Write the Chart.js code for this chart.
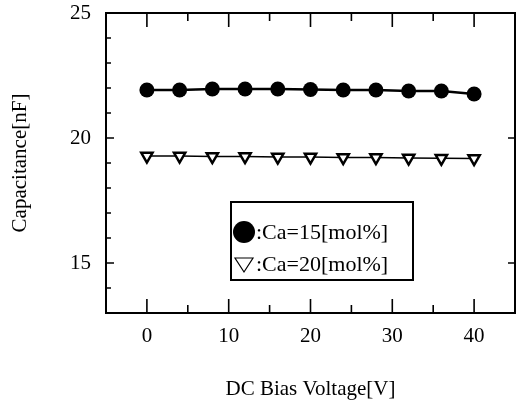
<!DOCTYPE html>
<html>
<head>
<meta charset="utf-8">
<script src="https://cdn.jsdelivr.net/npm/chart.js@4"></script>
<style>
  body { margin: 0; background: #fff; }
</style>
</head>
<body>
<canvas id="canvas" width="524" height="406"></canvas>
<script>
// DC bias dependence of capacitance
var voltage = [0, 4, 8, 12, 16, 20, 24, 28, 32, 36, 40];
var ca15 = [21.92, 21.92, 21.96, 21.96, 21.96, 21.94, 21.92, 21.92, 21.88, 21.88, 21.76];
var ca20 = [19.28, 19.28, 19.26, 19.26, 19.24, 19.24, 19.22, 19.22, 19.20, 19.19, 19.18];
var seriesNames = ['Ca=15[mol%]', 'Ca=20[mol%]'];

var xTicks = [0, 10, 20, 30, 40];
var xMinorTicks = [5, 15, 25, 35];
var yTicks = [15, 20, 25];
var yMinorTicks = [14, 16, 17, 18, 19, 21, 22, 23, 24];

var serif = "'Liberation Serif', 'DejaVu Serif', serif";

function toPoints( xs , ys ){
  var pts = [];
  for( var i = 0; i < xs.length; i++ ){
    pts.push({ x: xs[i], y: ys[i] });
  }
  return pts;
}

// box round the plot, inward ticks and the legend box
var framePlugin = {
  id: 'frame',
  afterDraw: function( chart ){
    var ctx = chart.ctx;
    var a = chart.chartArea;
    var sx = chart.scales.x;
    var sy = chart.scales.y;
    ctx.save();
    ctx.strokeStyle = '#000';
    ctx.lineWidth = 2;
    ctx.strokeRect( a.left, a.top, a.right - a.left, a.bottom - a.top );

    ctx.lineWidth = 1.6;
    ctx.beginPath();
    xTicks.forEach(function( v ){
      var px = sx.getPixelForValue( v );
      ctx.moveTo( px, a.bottom ); ctx.lineTo( px, a.bottom - 14 );
      ctx.moveTo( px, a.top ); ctx.lineTo( px, a.top + 14 );
    });
    xMinorTicks.forEach(function( v ){
      var px = sx.getPixelForValue( v );
      ctx.moveTo( px, a.bottom ); ctx.lineTo( px, a.bottom - 8 );
      ctx.moveTo( px, a.top ); ctx.lineTo( px, a.top + 8 );
    });
    yTicks.forEach(function( v ){
      var py = sy.getPixelForValue( v );
      ctx.moveTo( a.left, py ); ctx.lineTo( a.left + 8, py );
      ctx.moveTo( a.right, py ); ctx.lineTo( a.right - 7, py );
    });
    yMinorTicks.forEach(function( v ){
      var py = sy.getPixelForValue( v );
      ctx.moveTo( a.left, py ); ctx.lineTo( a.left + 5, py );
    });
    ctx.stroke();

    // legend
    var bx = 231, by = 202, bw = 182, bh = 78;
    ctx.fillStyle = '#fff';
    ctx.fillRect( bx, by, bw, bh );
    ctx.lineWidth = 2;
    ctx.strokeRect( bx, by, bw, bh );

    ctx.fillStyle = '#000';
    ctx.beginPath();
    ctx.arc( bx + 13, by + 30, 11, 0, Math.PI * 2 );
    ctx.fill();

    ctx.lineWidth = 1.2;
    ctx.beginPath();
    ctx.moveTo( bx + 4, by + 56 );
    ctx.lineTo( bx + 22, by + 56 );
    ctx.lineTo( bx + 13, by + 70 );
    ctx.closePath();
    ctx.stroke();

    ctx.font = '22px ' + serif;
    ctx.textBaseline = 'middle';
    ctx.textAlign = 'left';
    ctx.fillText( ':' + chart.data.datasets[0].label, bx + 25, by + 31 );
    ctx.fillText( ':' + chart.data.datasets[1].label, bx + 25, by + 63 );
    ctx.restore();
  }
};

var ctx = document.getElementById('canvas').getContext('2d');
var chart = new Chart(ctx, {
  type: 'line',
  data: {
    datasets: [{
      label: seriesNames[0],
      data: toPoints( voltage , ca15 ),
      borderColor: '#000',
      backgroundColor: '#000',
      borderWidth: 2.5,
      pointStyle: 'circle',
      pointRadius: 7.5,
      pointBackgroundColor: '#000',
      pointBorderWidth: 0
    }, {
      label: seriesNames[1],
      data: toPoints( voltage , ca20 ),
      borderColor: '#000',
      borderWidth: 1.5,
      pointStyle: 'triangle',
      pointRotation: 180,
      pointRadius: 6.5,
      pointBackgroundColor: '#fff',
      pointBorderColor: '#000',
      pointBorderWidth: 2.5
    }]
  },
  options: {
    responsive: false,
    animation: false,
    events: [],
    layout: { padding: { top: 13, right: 8, left: 0, bottom: 0 } },
    plugins: {
      legend: { display: false },
      tooltip: { enabled: false }
    },
    scales: {
      x: {
        type: 'linear',
        min: -5,
        max: 45,
        grid: { display: false, drawTicks: false },
        border: { display: false },
        afterBuildTicks: function( s ){
          s.ticks = xTicks.map(function( v ){ return { value: v }; });
        },
        ticks: { color: '#000', font: { family: serif, size: 21 }, padding: 11, maxRotation: 0, autoSkip: false },
        title: {
          display: true,
          text: 'DC Bias Voltage[V]',
          color: '#000',
          font: { family: serif, size: 21 },
          padding: { top: 0, bottom: 4 }
        },
        afterFit: function( s ){ s.height = 93; s.paddingLeft = 0; s.paddingRight = 0; }
      },
      y: {
        min: 13,
        max: 25,
        grid: { display: false, drawTicks: false },
        border: { display: false },
        afterBuildTicks: function( s ){
          s.ticks = yTicks.map(function( v ){ return { value: v }; });
        },
        ticks: { color: '#000', font: { family: serif, size: 21 }, padding: 15, autoSkip: false },
        title: {
          display: true,
          text: 'Capacitance[nF]',
          color: '#000',
          font: { family: serif, size: 21 },
          padding: { top: 8, bottom: 0 }
        },
        afterFit: function( s ){ s.width = 106; s.paddingTop = 0; s.paddingBottom = 0; }
      }
    }
  },
  plugins: [ framePlugin ]
});
</script>
</body>
</html>
